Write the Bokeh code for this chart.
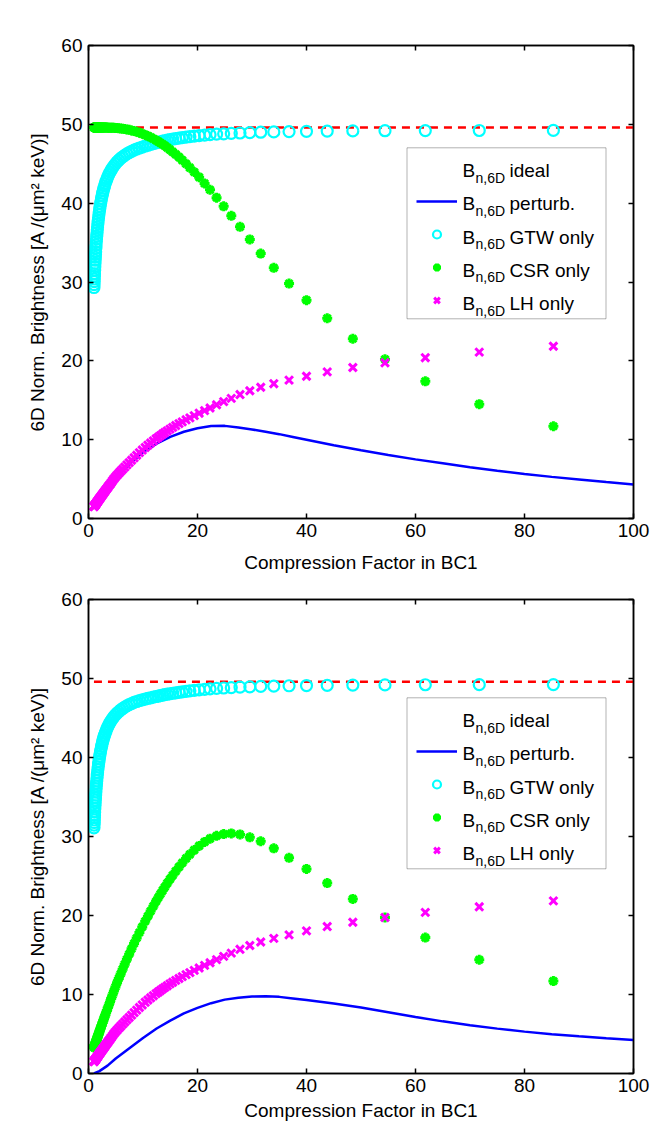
from bokeh.models import (ColumnDataSource, Range1d, FixedTicker, LinearAxis, Legend,
                          LegendItem, Label, BoxAnnotation, Title)
from bokeh.plotting import figure
from bokeh.layouts import column
from bokeh.embed import file_html
from bokeh.resources import INLINE

# ---------------- data ----------------
COMPRESSION = [1.00, 1.02, 1.04, 1.06, 1.08, 1.10, 1.13, 1.16, 1.19, 1.22,
               1.25, 1.28, 1.31, 1.35, 1.39, 1.43, 1.47, 1.51, 1.56, 1.61,
               1.66, 1.72, 1.78, 1.84, 1.91, 1.98, 2.05, 2.13, 2.21, 2.30,
               2.39, 2.49, 2.59, 2.70, 2.82, 2.94, 3.07, 3.22, 3.38, 3.55,
               3.74, 3.94, 4.16, 4.40, 4.66, 4.94, 5.24, 5.56, 5.90, 6.26,
               6.64, 7.04, 7.46, 7.90, 8.36, 8.84, 9.34, 9.86, 10.4, 10.9,
               11.4, 11.9, 12.4, 12.8, 13.2, 13.6, 14.0, 14.45, 14.95, 15.45,
               16.0, 16.6, 17.2, 17.9, 18.6, 19.4, 20.3, 21.3, 22.3, 23.5,
               24.8, 26.2, 27.8, 29.6, 31.6, 34.0, 36.8, 40.0, 43.8, 48.5,
               54.4, 61.8, 71.7, 85.3]

GTW_TOP = [29.30, 29.67, 30.04, 30.38, 30.72, 31.04, 31.50, 31.94, 32.36, 32.76,
           33.14, 33.50, 33.85, 34.28, 34.70, 35.09, 35.46, 35.81, 36.23, 36.61,
           36.98, 37.39, 37.78, 38.14, 38.53, 38.90, 39.24, 39.60, 39.94, 40.29,
           40.61, 40.95, 41.26, 41.58, 41.89, 42.18, 42.48, 42.78, 43.08, 43.37,
           43.66, 43.94, 44.21, 44.48, 44.74, 44.99, 45.23, 45.46, 45.68, 45.88,
           46.07, 46.25, 46.42, 46.58, 46.73, 46.87, 47.00, 47.10, 47.25, 47.35,
           47.45, 47.55, 47.65, 47.72, 47.79, 47.86, 47.92, 47.99, 48.06, 48.12,
           48.18, 48.25, 48.31, 48.38, 48.44, 48.50, 48.57, 48.63, 48.69, 48.75,
           48.80, 48.85, 48.90, 48.95, 49.00, 49.04, 49.08, 49.11, 49.14, 49.17,
           49.19, 49.21, 49.22, 49.23]

GTW_BOTTOM = [31.10, 31.44, 31.77, 32.09, 32.39, 32.68, 33.11, 33.51, 33.89, 34.25,
              34.60, 34.92, 35.24, 35.64, 36.02, 36.37, 36.71, 37.03, 37.41, 37.76,
              38.09, 38.47, 38.82, 39.15, 39.50, 39.84, 40.15, 40.48, 40.78, 41.10,
              41.40, 41.71, 41.99, 42.28, 42.56, 42.83, 43.10, 43.37, 43.65, 43.91,
              44.17, 44.43, 44.67, 44.92, 45.16, 45.39, 45.61, 45.81, 46.01, 46.20,
              46.37, 46.53, 46.69, 46.83, 46.97, 47.09, 47.20, 47.30, 47.40, 47.48,
              47.56, 47.64, 47.72, 47.78, 47.84, 47.90, 47.95, 48.01, 48.07, 48.13,
              48.19, 48.25, 48.31, 48.38, 48.44, 48.50, 48.57, 48.63, 48.69, 48.75,
              48.80, 48.85, 48.90, 48.95, 49.00, 49.04, 49.08, 49.11, 49.14, 49.17,
              49.19, 49.21, 49.22, 49.23]

CSR_TOP = [49.60, 49.60, 49.60, 49.60, 49.60, 49.60, 49.60, 49.60, 49.60, 49.60,
           49.60, 49.60, 49.60, 49.60, 49.60, 49.60, 49.60, 49.60, 49.60, 49.60,
           49.60, 49.60, 49.60, 49.60, 49.60, 49.60, 49.60, 49.60, 49.60, 49.60,
           49.60, 49.60, 49.60, 49.60, 49.60, 49.59, 49.59, 49.59, 49.59, 49.58,
           49.58, 49.58, 49.58, 49.57, 49.56, 49.55, 49.53, 49.51, 49.48, 49.45,
           49.41, 49.36, 49.30, 49.23, 49.15, 49.05, 48.94, 48.81, 48.66, 48.51,
           48.35, 48.17, 47.98, 47.82, 47.65, 47.47, 47.28, 47.05, 46.78, 46.50,
           46.20, 45.85, 45.45, 45.00, 44.50, 43.95, 43.30, 42.50, 41.70, 40.70,
           39.60, 38.40, 37.00, 35.40, 33.60, 31.80, 29.80, 27.70, 25.40, 22.80,
           20.20, 17.40, 14.50, 11.70]

CSR_BOTTOM = [3.30, 3.34, 3.38, 3.42, 3.46, 3.50, 3.56, 3.62, 3.68, 3.74,
              3.80, 3.86, 3.92, 4.00, 4.08, 4.16, 4.24, 4.32, 4.42, 4.52,
              4.62, 4.74, 4.86, 4.98, 5.12, 5.26, 5.40, 5.56, 5.72, 5.90,
              6.07, 6.27, 6.46, 6.68, 6.91, 7.14, 7.39, 7.68, 7.99, 8.31,
              8.68, 9.06, 9.48, 9.94, 10.43, 10.96, 11.50, 12.04, 12.61, 13.20,
              13.82, 14.46, 15.11, 15.78, 16.46, 17.15, 17.85, 18.56, 19.27, 19.92,
              20.56, 21.18, 21.79, 22.26, 22.72, 23.17, 23.61, 24.09, 24.60, 25.09,
              25.61, 26.15, 26.66, 27.22, 27.74, 28.28, 28.81, 29.31, 29.72, 30.08,
              30.31, 30.39, 30.26, 29.90, 29.40, 28.50, 27.30, 25.90, 24.10, 22.10,
              19.75, 17.20, 14.40, 11.70]

LH = [1.50, 1.52, 1.54, 1.56, 1.58, 1.60, 1.63, 1.66, 1.69, 1.72,
      1.75, 1.78, 1.81, 1.85, 1.89, 1.93, 1.97, 2.01, 2.06, 2.11,
      2.16, 2.22, 2.28, 2.34, 2.41, 2.48, 2.55, 2.62, 2.70, 2.79,
      2.87, 2.97, 3.06, 3.17, 3.28, 3.39, 3.52, 3.66, 3.81, 3.97,
      4.15, 4.33, 4.54, 4.78, 5.03, 5.27, 5.50, 5.74, 5.99, 6.25,
      6.52, 6.80, 7.09, 7.39, 7.70, 8.02, 8.35, 8.68, 9.01, 9.30,
      9.58, 9.85, 10.11, 10.31, 10.51, 10.71, 10.90, 11.11, 11.34, 11.56,
      11.79, 12.03, 12.26, 12.52, 12.77, 13.05, 13.36, 13.69, 14.02, 14.42,
      14.82, 15.24, 15.72, 16.20, 16.65, 17.10, 17.55, 18.05, 18.60, 19.15,
      19.75, 20.40, 21.10, 21.85]

PERT_X = [1, 2, 3.5, 5, 7.5, 10, 12.5, 15, 17.5, 20, 22.5, 25, 27.5, 30, 32.5,
          35, 37.5, 40, 45, 50, 55, 60, 65, 70, 75, 80, 85, 90, 95, 100]
PERT_TOP = [1.5, 2.45, 3.9, 5.2, 6.9, 8.4, 9.5, 10.35, 11.0, 11.45, 11.72, 11.75, 11.55, 11.3, 11.0,
            10.7, 10.35, 10.0, 9.3, 8.65, 8.05, 7.5, 7.0, 6.5, 6.05, 5.65, 5.28, 4.95, 4.62, 4.3]
PERT_BOTTOM = [0.0, 0.3, 1.0, 1.9, 3.2, 4.5, 5.7, 6.7, 7.6, 8.3, 8.9, 9.35, 9.6, 9.75, 9.78,
               9.7, 9.5, 9.3, 8.85, 8.35, 7.75, 7.15, 6.6, 6.1, 5.68, 5.3, 4.98, 4.7, 4.45, 4.25]

IDEAL_X = [1, 100]
IDEAL = [49.6, 49.6]

X_TICKS = [0, 20, 40, 60, 80, 100]
Y_TICKS = [0, 10, 20, 30, 40, 50, 60]
X_TITLE = "Compression Factor in BC1"
Y_TITLE = "6D Norm. Brightness [A /(\u03bcm\u00b2 keV)]"
LEGEND_MAIN = "B"
LEGEND_SUB = "n,6D"
LEGEND_SUFFIX = ["ideal", "perturb.", "GTW only", "CSR only", "LH only"]

FONT = "Liberation Sans"
FS = "19px"


def style_axis(ax, ticks, labels=True):
    ax.ticker = FixedTicker(ticks=ticks)
    ax.major_tick_in = 5
    ax.major_tick_out = 0
    ax.minor_tick_line_color = None
    ax.axis_line_color = "black"
    ax.axis_line_width = 1.5
    ax.major_tick_line_color = "black"
    ax.major_tick_line_width = 1.5
    ax.major_label_text_font = FONT
    ax.major_label_text_color = "black"
    ax.axis_label_text_font = FONT
    ax.axis_label_text_font_size = FS
    ax.axis_label_text_font_style = "normal"
    ax.axis_label_text_color = "black"
    if labels:
        ax.major_label_text_font_size = FS
    else:
        ax.major_label_text_font_size = "1px"
        ax.major_label_standoff = 0
        ax.major_label_overrides = {t: "" for t in ticks}


def make_panel(gtw, csr, pert, frame_h, b_top, b_bottom, box_top, xlab_standoff):
    p = figure(output_backend="svg", toolbar_location=None,
               frame_width=545, frame_height=frame_h,
               min_border_left=88, min_border_right=25,
               min_border_top=b_top, min_border_bottom=b_bottom,
               x_range=Range1d(0, 100), y_range=Range1d(0, 60))
    p.grid.visible = False
    p.outline_line_color = "black"
    p.outline_line_width = 1.5
    p.background_fill_color = "white"
    p.border_fill_color = "white"
    xa = p.xaxis[0]
    style_axis(xa, X_TICKS)
    xa.major_label_standoff = 5
    xa.axis_label = X_TITLE
    xa.axis_label_standoff = xlab_standoff
    ya = p.yaxis[0]
    style_axis(ya, Y_TICKS)
    ya.major_label_standoff = 6
    top_ax = LinearAxis()
    style_axis(top_ax, X_TICKS, labels=False)
    p.add_layout(top_ax, "above")
    right_ax = LinearAxis()
    style_axis(right_ax, Y_TICKS, labels=False)
    p.add_layout(right_ax, "right")
    # y title, shifted a little upward as in the reference
    p.add_layout(Title(text=Y_TITLE, align="center", offset=16, standoff=22,
                       text_font=FONT, text_font_size=FS, text_font_style="normal",
                       text_color="black"), "left")

    src = ColumnDataSource(dict(c=COMPRESSION, gtw=gtw, csr=csr, lh=LH))
    p.line(IDEAL_X, IDEAL, line_color="#ff0000", line_width=2.5, line_dash="8 6")
    r_pert = p.line(PERT_X, pert, line_color="#0000ff", line_width=2.5)
    r_gtw = p.scatter("c", "gtw", source=src, marker="circle", size=11,
                      fill_color=None, line_color="#00ffff", line_width=2.2)
    r_csr = p.scatter("c", "csr", source=src, marker="asterisk", size=10,
                      line_color="#00ff00", line_width=3)
    r_lh = p.scatter("c", "lh", source=src, marker="x", size=11,
                     line_color="#ff00ff", line_width=3)

    # legend frame (canvas pixels)
    box_left, box_w, box_h = 406.5, 199, 171
    p.add_layout(BoxAnnotation(left=box_left, right=box_left + box_w,
                               top=box_top, bottom=box_top + box_h,
                               left_units="canvas", right_units="canvas",
                               top_units="canvas", bottom_units="canvas",
                               fill_color="white", fill_alpha=1.0,
                               line_color="black", line_width=1))
    row_h = 33
    frame_left = 88
    frame_bottom = b_top + frame_h
    legend_bottom = box_top + 37 + 4 * row_h
    legend = Legend(items=[LegendItem(label=" ", renderers=[r]) for r in (r_pert, r_gtw, r_csr, r_lh)],
                    location=(box_left + 9.5 - frame_left, frame_bottom - legend_bottom),
                    orientation="vertical", padding=0, margin=0, spacing=0,
                    glyph_width=41, glyph_height=20, label_height=row_h,
                    label_width=1, label_standoff=0,
                    border_line_color=None, background_fill_alpha=0)
    p.add_layout(legend)
    for i, suffix in enumerate(LEGEND_SUFFIX):
        by = box_top + 22.7 + 33.3 * i
        p.add_layout(Label(x=462, y=by, x_units="canvas", y_units="canvas", text=LEGEND_MAIN,
                           text_font=FONT, text_font_size=FS, text_baseline="alphabetic",
                           text_align="left", text_color="black"))
        p.add_layout(Label(x=475, y=by + 7, x_units="canvas", y_units="canvas", text=LEGEND_SUB,
                           text_font=FONT, text_font_size="14px", text_baseline="alphabetic",
                           text_align="left", text_color="black"))
        p.add_layout(Label(x=509, y=by, x_units="canvas", y_units="canvas", text=suffix,
                           text_font=FONT, text_font_size=FS, text_baseline="alphabetic",
                           text_align="left", text_color="black"))
    return p


TOP_H = 45 + 473 + 64
p1 = make_panel(GTW_TOP, CSR_TOP, PERT_TOP, frame_h=473, b_top=45, b_bottom=64,
                box_top=147.3, xlab_standoff=12)
p2 = make_panel(GTW_BOTTOM, CSR_BOTTOM, PERT_BOTTOM, frame_h=474, b_top=599 - TOP_H, b_bottom=56,
                box_top=697.3 - TOP_H, xlab_standoff=5)

layout = column(p1, p2, spacing=0)
open("out.html", "w").write(file_html(layout, INLINE))
